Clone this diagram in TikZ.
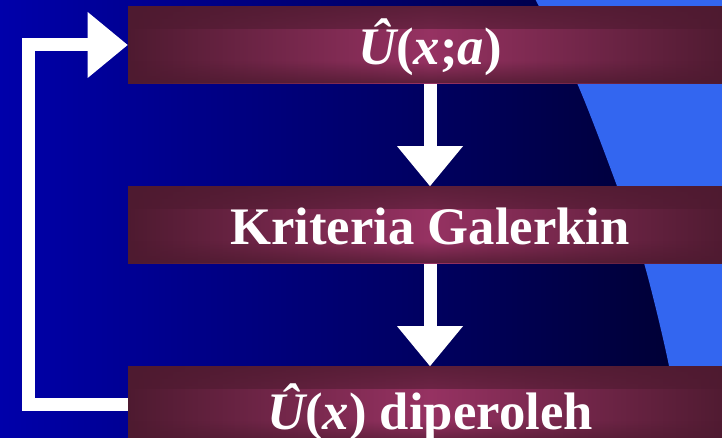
\documentclass[tikz,border=0pt]{standalone}
\usepackage{fontspec}
\setmainfont{Liberation Serif}
\usetikzlibrary{positioning,arrows.meta,fadings}
\definecolor{bgleft}{RGB}{0,0,170}
\definecolor{bgright}{RGB}{0,0,45}
\definecolor{sky}{RGB}{51,102,240}
\definecolor{boxedge}{RGB}{78,26,48}
\definecolor{boxmid}{RGB}{150,50,98}
\tikzfading[name=fadetop, top color=transparent!0, bottom color=transparent!100]
\tikzfading[name=fadebottom, top color=transparent!100, bottom color=transparent!0]
\begin{document}
\begin{tikzpicture}[node distance=3.6cm,
  box/.style={minimum width=12.08cm, minimum height=1.54cm, inner sep=0pt,
    left color=boxedge, right color=boxedge, middle color=boxmid, text=white,
    font=\fontsize{30}{36}\selectfont\bfseries, text height=1cm, text depth=0.2cm,
    path picture={
      \fill[boxedge, opacity=0.8, path fading=fadetop] (path picture bounding box.north west) rectangle ([yshift=-0.45cm]path picture bounding box.north east);
      \fill[boxedge, opacity=0.8, path fading=fadebottom] (path picture bounding box.south west) rectangle ([yshift=0.45cm]path picture bounding box.south east);}},
  bigarrow/.style={draw=white, line width=0.26cm, -{Triangle[width=1.32cm, length=0.8cm, line width=0pt]}}]
\useasboundingbox (0,0) rectangle (14.44,8.76);
\clip (0,0) rectangle (14.44,8.76);
\shade[left color=bgleft, right color=bgright] (0,0) rectangle (14.44,8.76);
\fill[sky] plot[smooth] coordinates {(10.64,8.9) (11.54,7.10) (12.34,5.04) (12.88,3.5) (13.38,1.44) (13.6,-0.1)} -- (14.6,-0.1) -- (14.6,8.9) -- cycle;
\node[box] (uhat) at (8.6,7.86) {\itshape Û\upshape(\itshape x\upshape;\itshape a\upshape)};
\node[box] (galerkin) [below of=uhat] {Kriteria Galerkin};
\node[box, text height=1.2cm] (result) [below of=galerkin] {\itshape Û\upshape(\itshape x\upshape) diperoleh};
\draw[bigarrow] (uhat) -- (galerkin);
\draw[bigarrow] (galerkin) -- (result);
\draw[bigarrow] (result.west) -- ++(-1.99,0) |- (uhat.west);
\end{tikzpicture}
\end{document}
